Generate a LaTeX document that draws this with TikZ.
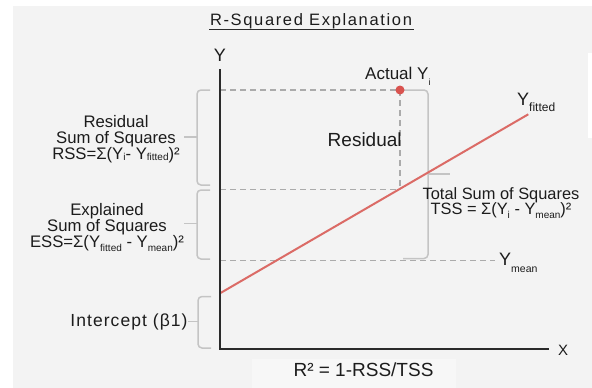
\documentclass[tikz,border=0pt]{standalone}
\usepackage{fontspec}
\setmainfont{Liberation Sans}
\definecolor{bg}{HTML}{F3F3F3}
\definecolor{boxbg}{HTML}{F7F7F7}
\definecolor{ink}{HTML}{1C1C1C}
\definecolor{axisc}{HTML}{2A2A2A}
\definecolor{dashc}{HTML}{ABABAB}
\definecolor{bracec}{HTML}{C4C4C4}
\definecolor{fitc}{HTML}{DB6B66}
\definecolor{dotc}{HTML}{D9534F}
\newcommand{\lo}[3]{\raisebox{-#1pt}{\fontsize{#2}{#2}\selectfont #3}}
\begin{document}
\begin{tikzpicture}[x=1pt,y=-1pt,
  txt/.style={inner sep=0pt, text=ink},
  axisline/.style={draw=axisc, line width=2pt},
  guide/.style={draw=dashc, line width=1.3pt, dash pattern=on 6pt off 4pt},
  fitline/.style={draw=fitc, line width=2pt},
  bracket/.style={draw=bracec, line width=1.5pt, rounded corners=4pt},
  datadot/.style={circle, fill=dotc, minimum size=9pt, inner sep=0pt}]
\lineskiplimit=-20pt\relax
\useasboundingbox (0,0) rectangle (592,388);
\fill[white] (0,0) rectangle (592,388);
\fill[bg] (13,6) rectangle (592,388);
\fill[white] (588,53) rectangle (592,138);
\fill[boxbg] (252,359) rectangle (456,388);

% title
\node[txt, anchor=base, font=\fontsize{16.5}{16.5}\selectfont\addfontfeature{LetterSpace=10}] (title) at (311,25) {R-Squared Explanation};
\draw[draw=axisc, line width=1.1pt] (209,29.5) coordinate (ul0) -- (414,29.5) coordinate (ul1);

% coordinates
\coordinate (O) at (220,349);
\coordinate (ytop) at (220,69);
\coordinate (xend) at (549,349);
\coordinate (ya) at (220,90);
\coordinate (yf) at (220,189.5);
\coordinate (foot) at (400,189.5);
\coordinate (ym) at (220,260.5);
\coordinate (ymend) at (495,260.5);
\coordinate (f0) at (220,293.3);
\coordinate (f1) at (528.3,114.3);

% dashed guides
\draw[guide] (ya) -- (400,90) coordinate (act);
\draw[guide] (act) -- (foot);
\draw[guide] (yf) -- (foot);
\draw[guide] (ym) -- (ymend);

% braces
\draw[bracket] (210,90) -- (197,90) -- (197,185) -- (210,185);
\draw[draw=bracec, line width=1.5pt] (197,137) -- (184,137);
\draw[bracket] (210,190) -- (197,190) -- (197,259) -- (210,259);
\draw[draw=bracec, line width=1.5pt] (197,223.5) -- (184,223.5);
\draw[bracket] (211,296.5) -- (198,296.5) -- (198,348) -- (211,348);
\draw[draw=bracec, line width=1.5pt] (198,321.7) -- (188,321.7);
\draw[bracket] (act) -- (428,90) -- (428,258.5) -- (403,258.5);
\draw[draw=bracec, line width=1.5pt] (428,174) -- (450,174);

% fitted line
\draw[fitline] (f0) -- (f1);

% axes
\draw[axisline] (ytop) -- (O) -- (xend);
\node[txt, anchor=base, font=\fontsize{18}{18}\selectfont] (ylab) at (220,61.7) {Y};
\node[txt, anchor=base, font=\fontsize{15}{15}\selectfont] (xlab) at (563,355) {X};

% actual point
\node[datadot] (actdot) at (act) {};

% labels
\node[txt, align=center, font=\fontsize{16.7}{16}\selectfont] (rss) at (116,139)
  {Residual\\Sum of Squares\\RSS=Σ(Y\lo{1}{10}{i}- Y\lo{1.5}{10}{fitted})²};
\node[txt, align=center, font=\fontsize{16.7}{16}\selectfont] (ess) at (107,227)
  {Explained\\Sum of Squares\\ESS=Σ(Y\lo{4}{10}{fitted} - Y\lo{4}{10}{mean})²};
\node[txt, anchor=base, font=\fontsize{17.5}{17.5}\selectfont\addfontfeature{LetterSpace=6}] (icpt) at (129,326) {Intercept (β1)};
\node[txt, anchor=base, font=\fontsize{19}{19}\selectfont] (resid) at (364.7,146) {Residual};
\node[txt, anchor=base west, font=\fontsize{17}{17}\selectfont] (actual) at (365,79) {Actual Y\lo{6}{9}{i}};
\node[txt, anchor=base west, font=\fontsize{18}{18}\selectfont] (yfit) at (517,105.7) {Y\lo{6}{12}{fitted}};
\node[txt, anchor=base west, font=\fontsize{18}{18}\selectfont] (ymean) at (499,265.7) {Y\lo{7}{10.5}{mean}};
\node[txt, align=center, font=\fontsize{16.4}{15.7}\selectfont] (tss) at (501,203)
  {Total Sum of Squares\\TSS = Σ(Y\lo{4}{10}{i} - Y\lo{4}{10}{mean})²};
\node[txt, anchor=base, font=\fontsize{19}{19}\selectfont] (rsq) at (363.5,376.7) {R² = 1-RSS/TSS};
\end{tikzpicture}
\end{document}
